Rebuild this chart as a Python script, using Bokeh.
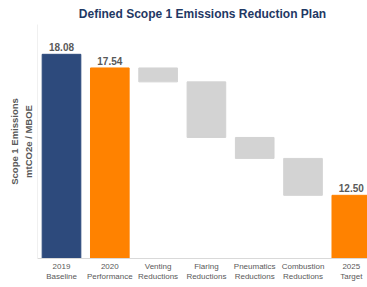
from bokeh.plotting import figure
from bokeh.models import Range1d, FixedTicker, ColumnDataSource
from bokeh.embed import file_html
from bokeh.resources import INLINE
from bokeh.core.properties import value

categories = ["2019\nBaseline", "2020\nPerformance", "Venting\nReductions", "Flaring\nReductions",
              "Pneumatics\nReductions", "Combustion\nReductions", "2025\nTarget"]
baseline_2019 = 18.08
performance_2020 = 17.54
reductions = [0.55, 2.20, 0.83, 1.46]
target_2025 = 12.50
total_labels = ["18.08", "17.54", "12.50"]

navy = "#2D4A7C"
orange = "#FF8200"
gray = "#D3D3D3"

# totals
tx = [0, 1, 6]
ttop = [baseline_2019, performance_2020, target_2025]
tcol = [navy, orange, orange]
tot = ColumnDataSource(dict(x=tx, top=ttop, bottom=[0, 0, 0], color=tcol, label=total_labels))

# floating reductions
fx, ftop, fbot = [], [], []
level = performance_2020
for i, r in enumerate(reductions):
    fx.append(2 + i)
    ftop.append(level)
    fbot.append(level - r)
    level -= r
flt = ColumnDataSource(dict(x=fx, top=ftop, bottom=fbot))

p = figure(width=367, height=284, output_backend="svg", toolbar_location=None,
           x_range=Range1d(-0.497, 6.335), y_range=Range1d(10, 19.26),
           min_border_left=37, min_border_right=0, min_border_top=24, min_border_bottom=26)
p.outline_line_color = None
p.xgrid.grid_line_color = None
p.ygrid.grid_line_color = None

p.title.text = "Defined Scope 1 Emissions Reduction Plan"
p.title.align = "center"
p.title.offset = -10
p.title.text_font = "Liberation Sans"
p.title.text_font_size = "12px"
p.title.text_font_style = "bold"
p.title.text_color = "#1F3864"
p.title.standoff = 7

p.vbar(x="x", top="top", bottom="bottom", width=0.8, color="color", source=tot)
p.vbar(x="x", top="top", bottom="bottom", width=0.8, color=gray, source=flt)
p.text(x="x", y="top", text="label", source=tot, text_align="center", text_baseline="bottom",
       y_offset=-3, text_font=value("Liberation Sans"), text_font_size="10px",
       text_font_style="bold", text_color="#595959")

xa = p.xaxis[0]
xa.ticker = FixedTicker(ticks=list(range(len(categories))))
xa.major_label_overrides = {i: c for i, c in enumerate(categories)}
xa.major_label_text_font = "Liberation Sans"
xa.major_label_text_font_size = "8px"
xa.major_label_text_color = "#595959"
xa.major_tick_line_color = None
xa.major_tick_out = 0
xa.major_tick_in = 0
xa.minor_tick_line_color = None
xa.minor_tick_out = 0
xa.axis_line_color = "#D9D9D9"
xa.major_label_standoff = 3
xa.axis_label_standoff = 0

ya = p.yaxis[0]
ya.ticker = FixedTicker(ticks=[])
ya.axis_label = "Scope 1 Emissions\nmtCO2e / MBOE"
ya.axis_label_text_font = "Liberation Sans"
ya.axis_label_text_font_size = "9.5px"
ya.axis_label_text_font_style = "bold"
ya.axis_label_text_color = "#595959"
ya.axis_label_standoff = 4
ya.major_tick_line_color = None
ya.major_tick_out = 0
ya.minor_tick_line_color = None
ya.minor_tick_out = 0
ya.axis_line_color = "#F0F0F0"

open("out.html", "w").write(file_html(p, INLINE))
